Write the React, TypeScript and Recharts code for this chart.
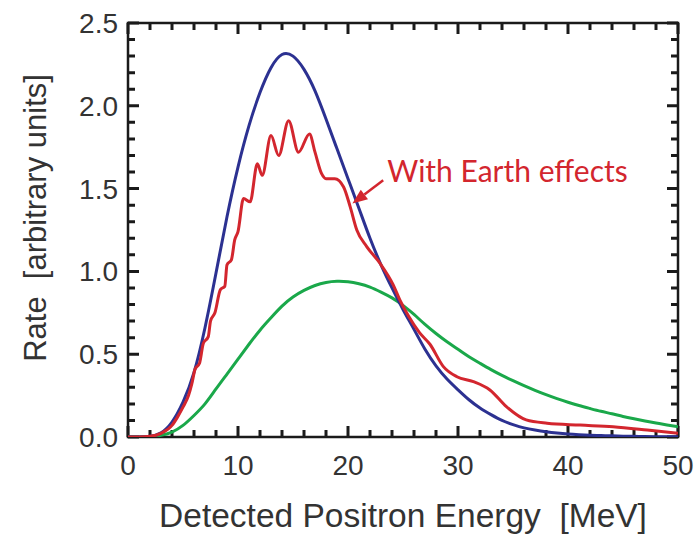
import React from 'react';
import { LineChart, Line, XAxis, YAxis, ReferenceLine, ReferenceArea } from 'recharts';

// Energy grid (MeV) shared by the two smooth spectra
const energyGrid = [
  0, 1, 2, 3, 4, 5, 6, 7, 8, 9, 10, 11, 12, 13, 14, 15, 16, 17, 18, 19, 20,
  21, 22, 23, 24, 25, 26, 27, 28, 29, 30, 31, 32, 33, 34, 35, 36, 37, 38, 39, 40,
  41, 42, 43, 44, 45, 46, 47, 48, 49, 50,
];

// Narrow spectrum without Earth matter effects (blue)
const noEarthRate = [
  0, 0, 0.004, 0.025, 0.09, 0.21, 0.39, 0.66, 0.99, 1.33, 1.63, 1.88, 2.08, 2.23, 2.31, 2.3,
  2.22, 2.09, 1.92, 1.74, 1.56, 1.38, 1.2, 1.04, 0.9, 0.77, 0.65, 0.53, 0.43, 0.35, 0.285,
  0.225, 0.175, 0.135, 0.1, 0.075, 0.055, 0.042, 0.032, 0.024, 0.018, 0.014, 0.011, 0.009,
  0.007, 0.005, 0.004, 0.003, 0.002, 0.002, 0.001,
];

// Broad, harder spectrum (green)
const hardRate = [
  0, 0, 0.002, 0.01, 0.03, 0.07, 0.13, 0.2, 0.29, 0.38, 0.47, 0.56, 0.645, 0.72, 0.79, 0.845,
  0.885, 0.915, 0.933, 0.94, 0.937, 0.925, 0.905, 0.875, 0.84, 0.795, 0.74, 0.68, 0.625,
  0.575, 0.53, 0.485, 0.445, 0.407, 0.372, 0.34, 0.31, 0.282, 0.256, 0.232, 0.21, 0.19,
  0.172, 0.155, 0.14, 0.124, 0.11, 0.097, 0.085, 0.073, 0.062,
];

// Spectrum with Earth effects (red): oscillating, sampled more finely
const earthEnergy = [
  0, 1, 2, 3, 4, 4.5, 5, 5.5, 5.8, 6.1, 6.5, 6.85, 7.3, 7.5, 7.9, 8.4, 8.8, 9.0, 9.4, 9.7,
  10.0, 10.5, 11.1, 11.76, 12.2, 13.0, 13.7, 14.6, 15.5, 16.5, 17.0, 17.6, 18.0, 18.8, 19.6,
  20.2, 20.8, 21.7, 22.9, 24.1, 24.7, 25.5, 26.5, 27.45, 28.67, 29.9, 31.4, 32.9, 34.4,
  36.2, 38.1, 41.1, 44.1, 47.2, 50,
];
const earthRate = [
  0, 0, 0.004, 0.022, 0.07, 0.12, 0.18, 0.25, 0.32, 0.41, 0.445, 0.566, 0.606, 0.7, 0.75,
  0.89, 0.91, 1.04, 1.07, 1.19, 1.24, 1.44, 1.42, 1.65, 1.58, 1.82, 1.7, 1.91, 1.72, 1.83,
  1.72, 1.59, 1.56, 1.56, 1.51, 1.39, 1.25, 1.15, 1.05, 0.92, 0.83, 0.73, 0.63, 0.56, 0.425,
  0.364, 0.334, 0.284, 0.183, 0.103, 0.083, 0.072, 0.062, 0.042, 0.022,
];

// Axis tick values (labelled majors, unlabelled minors)
const xMajorTicks = [0, 10, 20, 30, 40, 50];
const xAllTicks = [
  0, 2, 4, 6, 8, 10, 12, 14, 16, 18, 20, 22, 24, 26, 28, 30, 32, 34, 36, 38, 40, 42, 44, 46,
  48, 50,
];
const yMajorTicks = [0, 0.5, 1, 1.5, 2, 2.5];
const yAllTicks = [
  0, 0.1, 0.2, 0.3, 0.4, 0.5, 0.6, 0.7, 0.8, 0.9, 1, 1.1, 1.2, 1.3, 1.4, 1.5, 1.6, 1.7, 1.8,
  1.9, 2, 2.1, 2.2, 2.3, 2.4, 2.5,
];

const X_DOMAIN: [number, number] = [0, 50];
const Y_DOMAIN: [number, number] = [0, 2.5];

// Annotation arrow: from the label down to the red curve
const arrowFrom = { x: 23.2, y: 1.55 };
const arrowTo = { x: 20.4, y: 1.41 };

const BLUE = '#2c3191';
const RED = '#d3262e';
const GREEN = '#1aa84a';
const FRAME = '#1a1a1a';
const TEXT = '#333333';
const AXIS_FONT = '"Liberation Sans", Arial, Helvetica, sans-serif';
const MAJOR_LEN = 11;
const MINOR_LEN = 7;

const zip = (xs: number[], ys: number[]) => xs.map((e, i) => ({ e, r: ys[i] }));
const noEarthData = zip(energyGrid, noEarthRate);
const hardData = zip(energyGrid, hardRate);
const earthData = zip(earthEnergy, earthRate);

const isMajor = (list: number[], v: number) => list.some((m) => Math.abs(m - v) < 1e-6);

const XTick = (props: any) => {
  const { x, y, payload } = props;
  return (
    <text x={x} y={y + 38} textAnchor="middle" fill={TEXT} fontSize={28} fontFamily={AXIS_FONT}>
      {String(payload.value)}
    </text>
  );
};

const YTick = (props: any) => {
  const { x, y, payload } = props;
  return (
    <text x={x - 10} y={y + 10} textAnchor="end" fill={TEXT} fontSize={28} fontFamily={AXIS_FONT}>
      {Number(payload.value).toFixed(1)}
    </text>
  );
};

// Plot frame with inward ticks on all four sides, laid out over the frame's pixel box
const FrameWithTicks = (props: any) => {
  const x = Number(props.x);
  const y = Number(props.y);
  const width = Number(props.width);
  const height = Number(props.height);
  const px = (v: number) => x + ((v - X_DOMAIN[0]) / (X_DOMAIN[1] - X_DOMAIN[0])) * width;
  const py = (v: number) => y + height - ((v - Y_DOMAIN[0]) / (Y_DOMAIN[1] - Y_DOMAIN[0])) * height;
  let d = '';
  xAllTicks.forEach((v) => {
    const len = isMajor(xMajorTicks, v) ? MAJOR_LEN : MINOR_LEN;
    const cx = px(v);
    d += `M${cx},${y + height}V${y + height - len}M${cx},${y}V${y + len}`;
  });
  yAllTicks.forEach((v) => {
    const len = isMajor(yMajorTicks, v) ? MAJOR_LEN : MINOR_LEN;
    const cy = py(v);
    d += `M${x},${cy}H${x + len}M${x + width},${cy}H${x + width - len}`;
  });
  return (
    <g>
      <rect x={x} y={y} width={width} height={height} fill="none" stroke={FRAME} strokeWidth={2.5} />
      <path d={d} fill="none" stroke={FRAME} strokeWidth={3} strokeLinecap="butt" />
    </g>
  );
};

const XTitle = (props: any) => {
  const vb = props.viewBox || {};
  return (
    <text
      x={vb.x + vb.width / 2}
      y={vb.y + 90}
      textAnchor="middle"
      fill={TEXT}
      fontSize={33.5}
      fontFamily={AXIS_FONT}
      style={{ whiteSpace: 'pre' }}
    >
      {'Detected Positron Energy  [MeV]'}
    </text>
  );
};

const YTitle = (props: any) => {
  const vb = props.viewBox || {};
  const cx = vb.x + 46;
  const cy = vb.y + vb.height / 2 - 12;
  return (
    <text
      x={cx}
      y={cy}
      transform={`rotate(-90 ${cx} ${cy})`}
      textAnchor="middle"
      fill={TEXT}
      fontSize={31}
      fontFamily={AXIS_FONT}
      style={{ whiteSpace: 'pre' }}
    >
      {'Rate  [arbitrary units]'}
    </text>
  );
};

const AnnotationArrow = (props: any) => {
  const { x1, y1, x2, y2 } = props;
  const ang = Math.atan2(y2 - y1, x2 - x1);
  const headLen = 15;
  const headHalf = 6;
  const bx = x2 - headLen * Math.cos(ang);
  const by = y2 - headLen * Math.sin(ang);
  const ox = -Math.sin(ang) * headHalf;
  const oy = Math.cos(ang) * headHalf;
  return (
    <g>
      <line x1={x1} y1={y1} x2={bx} y2={by} stroke={RED} strokeWidth={2.5} />
      <polygon points={`${x2},${y2} ${bx + ox},${by + oy} ${bx - ox},${by - oy}`} fill={RED} />
      <text x={x1 + 4} y={y1 + 2} fill={RED} fontSize={30} fontFamily="Lato, 'Open Sans', sans-serif">
        With Earth effects
      </text>
    </g>
  );
};

export default function App() {
  return (
    <div style={{ position: 'absolute', left: 0, top: 0, background: '#fff' }}>
      <LineChart width={700} height={536} margin={{ top: 23, right: 22, bottom: 0, left: 0 }}>
        <XAxis
          dataKey="e"
          type="number"
          domain={X_DOMAIN}
          ticks={xMajorTicks}
          interval={0}
          allowDataOverflow
          tickLine={false}
          axisLine={false}
          tickSize={0}
          tickMargin={0}
          height={99}
          tick={<XTick />}
          label={{ content: <XTitle /> }}
        />
        <YAxis
          dataKey="r"
          type="number"
          domain={Y_DOMAIN}
          ticks={yMajorTicks}
          interval={0}
          allowDataOverflow
          tickLine={false}
          axisLine={false}
          tickSize={0}
          tickMargin={0}
          width={128}
          tick={<YTick />}
          label={{ content: <YTitle /> }}
        />

        <ReferenceArea
          x1={X_DOMAIN[0]}
          x2={X_DOMAIN[1]}
          y1={Y_DOMAIN[0]}
          y2={Y_DOMAIN[1]}
          ifOverflow="visible"
          shape={<FrameWithTicks />}
        />

        <Line data={hardData} dataKey="r" type="natural" stroke={GREEN} strokeWidth={3} dot={false} activeDot={false} isAnimationActive={false} />
        <Line data={noEarthData} dataKey="r" type="natural" stroke={BLUE} strokeWidth={3} dot={false} activeDot={false} isAnimationActive={false} />
        <Line data={earthData} dataKey="r" type="monotone" stroke={RED} strokeWidth={3} dot={false} activeDot={false} isAnimationActive={false} />

        <ReferenceLine segment={[arrowFrom, arrowTo]} shape={<AnnotationArrow />} ifOverflow="visible" />
      </LineChart>
    </div>
  );
}
